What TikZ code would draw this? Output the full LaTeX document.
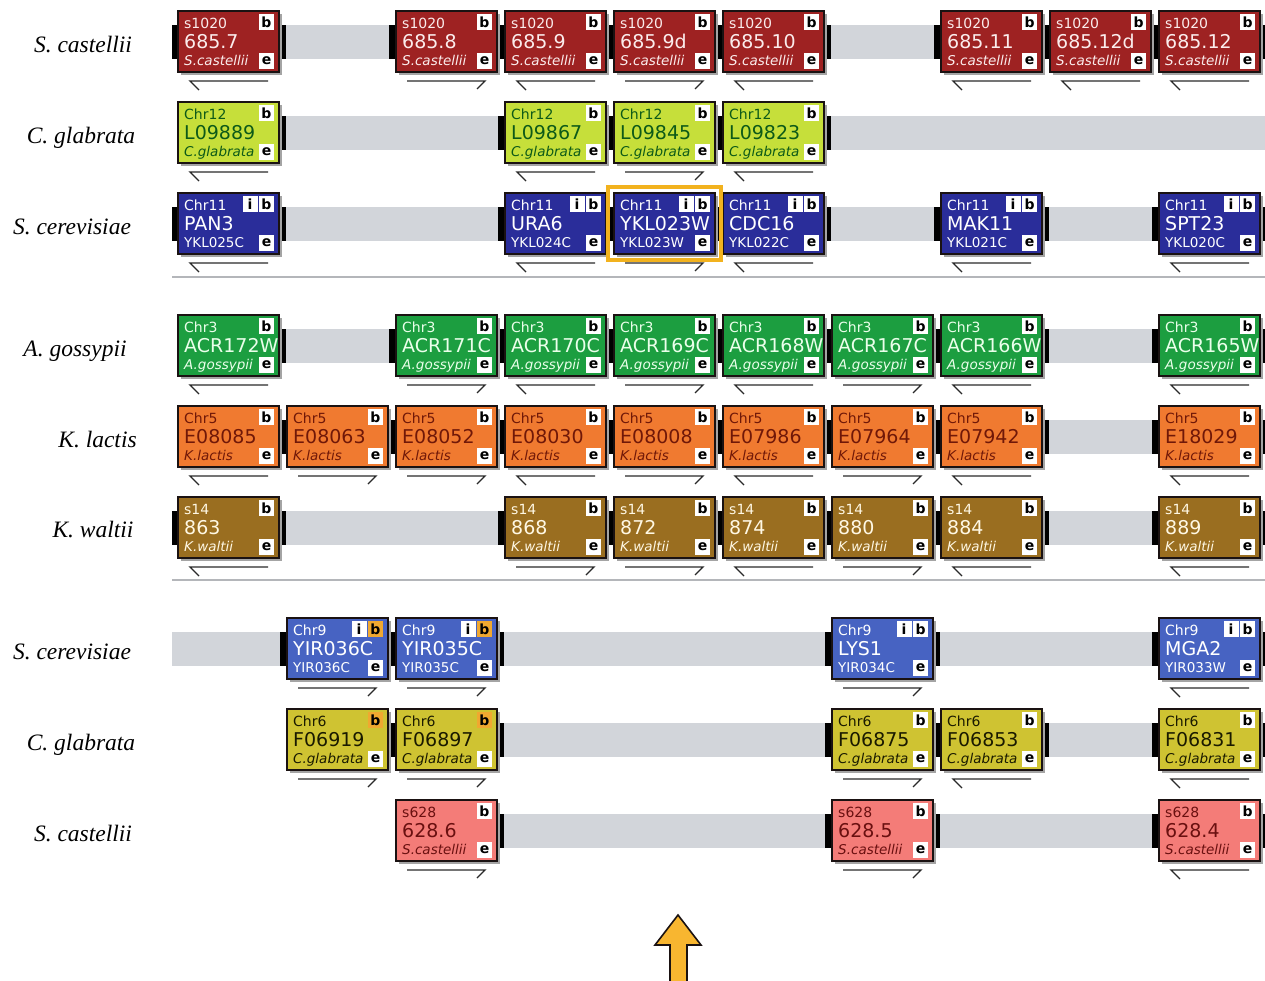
\documentclass[tikz,border=0pt]{standalone}
\usepackage{fontspec}
\setmainfont{Liberation Serif}
\newfontfamily\dvs{DejaVu Sans}
\usetikzlibrary{shadows}
\definecolor{boxline}{HTML}{1A1212}
\definecolor{shadowgray}{HTML}{A4A4A4}
\definecolor{bandgray}{HTML}{D2D5DA}
\definecolor{sepgray}{HTML}{B4B6BA}
\definecolor{strandcol}{HTML}{2A2A2A}
\definecolor{hlgold}{HTML}{F2B21E}
\definecolor{borange}{HTML}{F0A830}
\definecolor{arrowfill}{HTML}{F8B630}
\definecolor{cScas}{HTML}{9E2222}\definecolor{tScas}{HTML}{FBECEC}
\definecolor{cCgla}{HTML}{C6DF3A}\definecolor{tCgla}{HTML}{0D5A18}
\definecolor{cScer}{HTML}{2A2D9A}\definecolor{tScer}{HTML}{FFFFFF}
\definecolor{cAgos}{HTML}{1C9E40}\definecolor{tAgos}{HTML}{EAFFEA}
\definecolor{cKlac}{HTML}{F07A30}\definecolor{tKlac}{HTML}{701808}
\definecolor{cKwal}{HTML}{9A6E20}\definecolor{tKwal}{HTML}{FFF8E4}
\definecolor{cScerB}{HTML}{4763C2}\definecolor{tScerB}{HTML}{FFFFFF}
\definecolor{cCglaB}{HTML}{CFC332}\definecolor{tCglaB}{HTML}{1A1A00}
\definecolor{cScasB}{HTML}{F47C78}\definecolor{tScasB}{HTML}{6A1010}
\tikzset{
  gb/.style={draw=boxline, line width=1.4pt, minimum width=101pt, minimum height=61pt,
    inner sep=0pt, outer sep=0pt,
    drop shadow={shadow xshift=3pt, shadow yshift=-3pt, fill=shadowgray, opacity=1}},
  gtop/.style={anchor=base west, inner sep=0pt, font=\dvs\fontsize{14}{14}\selectfont},
  gmid/.style={anchor=base west, inner sep=0pt, font=\dvs\fontsize{19}{19}\selectfont},
  gbot/.style={anchor=base west, inner sep=0pt, font=\dvs\fontsize{13.5}{14}\selectfont},
  sq/.style={fill=white, minimum width=15pt, minimum height=16pt, inner sep=0pt,
    font=\dvs\bfseries\fontsize{14}{14}\selectfont, text=black},
  bw/.style={},
  bo/.style={fill=borange},
  strand/.style={line width=1.3pt, draw=strandcol},
  sepline/.style={line width=1.5pt, draw=sepgray},
  sp/.style={anchor=base, inner sep=0pt, font=\fontsize{23.5}{24}\selectfont\itshape},
  hl/.style={draw=hlgold, line width=4pt},
  bigarrow/.style={fill=arrowfill, draw=boxline, line width=1.6pt, line join=miter},
  scasbox/.style={fill=cScas}, scastxt/.style={text=tScas},
  cglabox/.style={fill=cCgla}, cglatxt/.style={text=tCgla},
  scerbox/.style={fill=cScer}, scertxt/.style={text=tScer},
  agosbox/.style={fill=cAgos}, agostxt/.style={text=tAgos},
  klacbox/.style={fill=cKlac}, klactxt/.style={text=tKlac},
  kwalbox/.style={fill=cKwal}, kwaltxt/.style={text=tKwal},
  scerBbox/.style={fill=cScerB}, scerBtxt/.style={text=tScerB},
  cglaBbox/.style={fill=cCglaB}, cglaBtxt/.style={text=tCglaB},
  scasBbox/.style={fill=cScasB}, scasBtxt/.style={text=tScasB},
}
% #1 name, #2 x, #3 top y, #4 species key, #5 top, #6 middle, #7 bottom, #8 L/R, #9 b style
\newcommand\gene[9]{%
  \node[gb,#4box] (#1) at (#2+50.5,#3+30.5) {};
  \node[gtop,#4txt] (#1c) at ([shift={(6,17)}]#1.north west) {#5};
  \node[gmid,#4txt] (#1m) at ([shift={(6,37.5)}]#1.north west) {#6};
  \node[gbot,#4txt] (#1s) at ([shift={(6,-7)}]#1.south west) {#7};
  \node[sq,#9] (#1b) at ([shift={(-12.5,11)}]#1.north east) {b};
  \node[sq] (#1e) at ([shift={(-12.5,-11.5)}]#1.south east) {e};
  \if#8L\draw[strand] ([shift={(21,18)}]#1.south west) -- ++(-9,-9) -- ++(78,0);
  \else\draw[strand] ([shift={(11,9)}]#1.south west) -- ++(78,0) -- ++(-8,8);\fi
}
\newcommand\isq[1]{\node[sq] (#1i) at ([shift={(-29,11)}]#1.north east) {i};}
% #1 top y, #2 x start, #3 box x list
\newcommand\band[3]{%
  \begin{scope}
    \clip (#2,#1+13.5) rectangle (1266,#1+47.5);
    \fill[bandgray] (#2,#1+13.5) rectangle (1266,#1+47.5);
    \foreach \bx in {#3} \fill[black] (\bx-7,#1+13.5) rectangle (\bx+108,#1+47.5);
  \end{scope}}
\newcommand\Scas{\itshape S.castellii}
\newcommand\Cgla{\itshape C.glabrata}
\newcommand\Agos{\itshape A.gossypii}
\newcommand\Klac{\itshape K.lactis}
\newcommand\Kwal{\itshape K.waltii}

\begin{document}
\begin{tikzpicture}[x=1pt,y=-1pt]
\useasboundingbox[fill=white] (0,0) rectangle (1265,980);

% species labels
\node[sp] (l1) at (83,52) {S. castellii};
\node[sp] (l2) at (81,143) {C. glabrata};
\node[sp] (l3) at (72,234) {S. cerevisiae};
\node[sp] (l4) at (75,356) {A. gossypii};
\node[sp] (l5) at (97.5,447) {K. lactis};
\node[sp] (l6) at (93,537) {K. waltii};
\node[sp] (l7) at (72,659) {S. cerevisiae};
\node[sp] (l8) at (81,750) {C. glabrata};
\node[sp] (l9) at (83,841) {S. castellii};

% separators
\draw[sepline] (172,277) -- (1265,277);
\draw[sepline] (172,580) -- (1265,580);

% bands
\band{11}{172}{178,396,505,614,723,941,1050,1159}
\band{102}{178}{178,505,614,723}
\band{193}{172}{178,505,614,723,941,1159}
\band{315}{178}{178,396,505,614,723,832,941,1159}
\band{406}{178}{178,287,396,505,614,723,832,941,1159}
\band{497}{172}{178,505,614,723,832,941,1159}
\band{618}{172}{287,396,832,1159}
\band{709}{287}{287,396,832,941,1159}
\band{800}{396}{396,832,1159}

% row 1: S. castellii s1020
\gene{a1}{178}{11}{scas}{s1020}{685.7}{\Scas}{L}{bw}
\gene{a3}{396}{11}{scas}{s1020}{685.8}{\Scas}{R}{bw}
\gene{a4}{505}{11}{scas}{s1020}{685.9}{\Scas}{L}{bw}
\gene{a5}{614}{11}{scas}{s1020}{685.9d}{\Scas}{R}{bw}
\gene{a6}{723}{11}{scas}{s1020}{685.10}{\Scas}{L}{bw}
\gene{a8}{941}{11}{scas}{s1020}{685.11}{\Scas}{L}{bw}
\gene{a9}{1050}{11}{scas}{s1020}{685.12d}{\Scas}{L}{bw}
\gene{a10}{1159}{11}{scas}{s1020}{685.12}{\Scas}{L}{bw}

% row 2: C. glabrata Chr12
\gene{b1}{178}{102}{cgla}{Chr12}{L09889}{\Cgla}{L}{bw}
\gene{b4}{505}{102}{cgla}{Chr12}{L09867}{\Cgla}{L}{bw}
\gene{b5}{614}{102}{cgla}{Chr12}{L09845}{\Cgla}{R}{bw}
\gene{b6}{723}{102}{cgla}{Chr12}{L09823}{\Cgla}{L}{bw}

% row 3: S. cerevisiae Chr11
\gene{c1}{178}{193}{scer}{Chr11}{PAN3}{YKL025C}{L}{bw}\isq{c1}
\gene{c4}{505}{193}{scer}{Chr11}{URA6}{YKL024C}{L}{bw}\isq{c4}
\gene{c5}{614}{193}{scer}{Chr11}{YKL023W}{YKL023W}{R}{bw}\isq{c5}
\gene{c6}{723}{193}{scer}{Chr11}{CDC16}{YKL022C}{L}{bw}\isq{c6}
\gene{c8}{941}{193}{scer}{Chr11}{MAK11}{YKL021C}{L}{bw}\isq{c8}
\gene{c10}{1159}{193}{scer}{Chr11}{SPT23}{YKL020C}{L}{bw}\isq{c10}
\draw[hl] ([shift={(-6,-6)}]c5.north west) rectangle ([shift={(6,6)}]c5.south east);

% row 4: A. gossypii Chr3
\gene{d1}{178}{315}{agos}{Chr3}{ACR172W}{\Agos}{L}{bw}
\gene{d3}{396}{315}{agos}{Chr3}{ACR171C}{\Agos}{R}{bw}
\gene{d4}{505}{315}{agos}{Chr3}{ACR170C}{\Agos}{L}{bw}
\gene{d5}{614}{315}{agos}{Chr3}{ACR169C}{\Agos}{R}{bw}
\gene{d6}{723}{315}{agos}{Chr3}{ACR168W}{\Agos}{L}{bw}
\gene{d7}{832}{315}{agos}{Chr3}{ACR167C}{\Agos}{R}{bw}
\gene{d8}{941}{315}{agos}{Chr3}{ACR166W}{\Agos}{L}{bw}
\gene{d10}{1159}{315}{agos}{Chr3}{ACR165W}{\Agos}{L}{bw}

% row 5: K. lactis Chr5
\gene{e1}{178}{406}{klac}{Chr5}{E08085}{\Klac}{L}{bw}
\gene{e2}{287}{406}{klac}{Chr5}{E08063}{\Klac}{R}{bw}
\gene{e3}{396}{406}{klac}{Chr5}{E08052}{\Klac}{R}{bw}
\gene{e4}{505}{406}{klac}{Chr5}{E08030}{\Klac}{L}{bw}
\gene{e5}{614}{406}{klac}{Chr5}{E08008}{\Klac}{R}{bw}
\gene{e6}{723}{406}{klac}{Chr5}{E07986}{\Klac}{L}{bw}
\gene{e7}{832}{406}{klac}{Chr5}{E07964}{\Klac}{R}{bw}
\gene{e8}{941}{406}{klac}{Chr5}{E07942}{\Klac}{L}{bw}
\gene{e10}{1159}{406}{klac}{Chr5}{E18029}{\Klac}{L}{bw}

% row 6: K. waltii s14
\gene{f1}{178}{497}{kwal}{s14}{863}{\Kwal}{L}{bw}
\gene{f4}{505}{497}{kwal}{s14}{868}{\Kwal}{R}{bw}
\gene{f5}{614}{497}{kwal}{s14}{872}{\Kwal}{R}{bw}
\gene{f6}{723}{497}{kwal}{s14}{874}{\Kwal}{L}{bw}
\gene{f7}{832}{497}{kwal}{s14}{880}{\Kwal}{R}{bw}
\gene{f8}{941}{497}{kwal}{s14}{884}{\Kwal}{L}{bw}
\gene{f10}{1159}{497}{kwal}{s14}{889}{\Kwal}{L}{bw}

% row 7: S. cerevisiae Chr9
\gene{g2}{287}{618}{scerB}{Chr9}{YIR036C}{YIR036C}{R}{bo}\isq{g2}
\gene{g3}{396}{618}{scerB}{Chr9}{YIR035C}{YIR035C}{R}{bo}\isq{g3}
\gene{g7}{832}{618}{scerB}{Chr9}{LYS1}{YIR034C}{R}{bw}\isq{g7}
\gene{g10}{1159}{618}{scerB}{Chr9}{MGA2}{YIR033W}{L}{bw}\isq{g10}

% row 8: C. glabrata Chr6
\gene{h2}{287}{709}{cglaB}{Chr6}{F06919}{\Cgla}{R}{bo}
\gene{h3}{396}{709}{cglaB}{Chr6}{F06897}{\Cgla}{R}{bo}
\gene{h7}{832}{709}{cglaB}{Chr6}{F06875}{\Cgla}{R}{bw}
\gene{h8}{941}{709}{cglaB}{Chr6}{F06853}{\Cgla}{L}{bw}
\gene{h10}{1159}{709}{cglaB}{Chr6}{F06831}{\Cgla}{L}{bw}

% row 9: S. castellii s628
\gene{k3}{396}{800}{scasB}{s628}{628.6}{\Scas}{R}{bw}
\gene{k7}{832}{800}{scasB}{s628}{628.5}{\Scas}{R}{bw}
\gene{k10}{1159}{800}{scasB}{s628}{628.4}{\Scas}{L}{bw}

% orange arrow
\draw[bigarrow] (678,915) -- (701,945) -- (687,945) -- (687,985) -- (670,985) -- (670,945) -- (655,945) -- cycle;
\end{tikzpicture}
\end{document}
